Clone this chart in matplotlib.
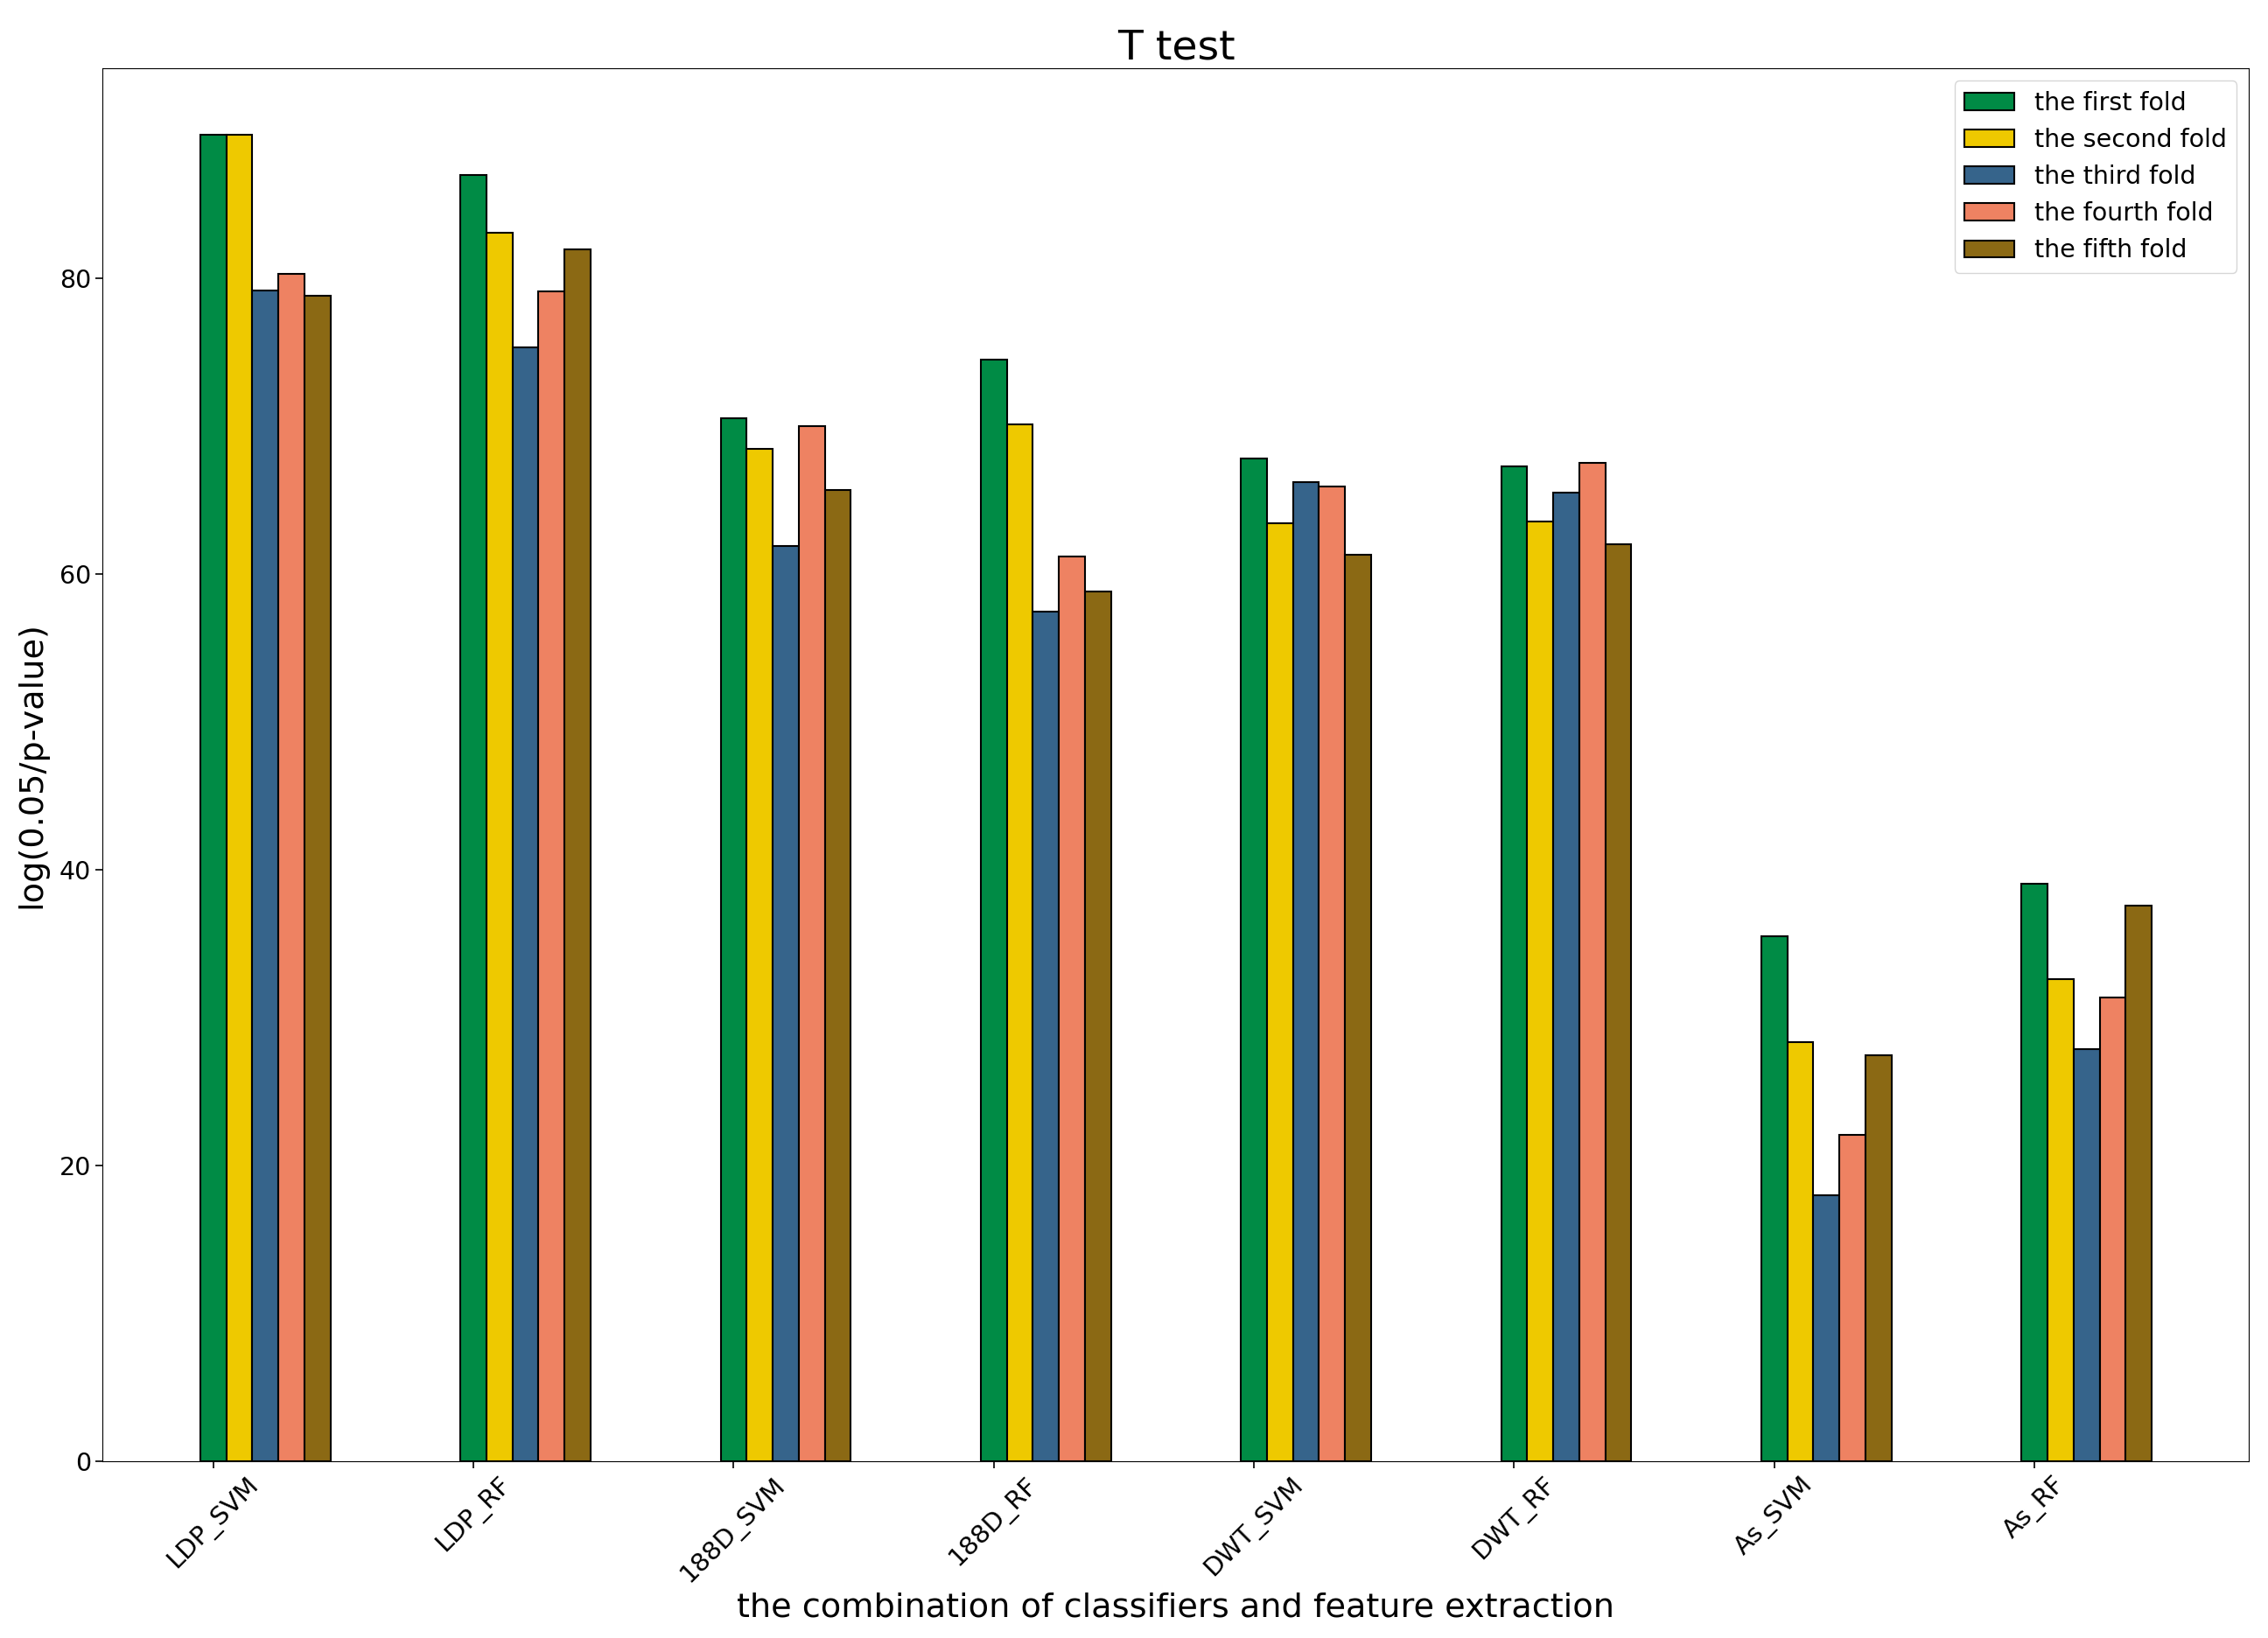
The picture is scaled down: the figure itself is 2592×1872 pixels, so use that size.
import matplotlib
matplotlib.use("Agg")
import matplotlib.pyplot as plt
import numpy as np

categories = ["LDP_SVM", "LDP_RF", "188D_SVM", "188D_RF", "DWT_SVM", "DWT_RF", "As_SVM", "As_RF"]
fold1 = [89.7, 86.98, 70.49, 74.5, 67.81, 67.24, 35.52, 39.04]
fold2 = [89.7, 83.08, 68.44, 70.08, 63.4, 63.55, 28.34, 32.6]
fold3 = [79.17, 75.33, 61.85, 57.44, 66.17, 65.46, 17.99, 27.85]
fold4 = [80.28, 79.07, 70.0, 61.18, 65.92, 67.47, 22.09, 31.36]
fold5 = [78.82, 81.93, 65.68, 58.83, 61.28, 61.99, 27.46, 37.57]
series = [fold1, fold2, fold3, fold4, fold5]
labels = ["the first fold", "the second fold", "the third fold", "the fourth fold", "the fifth fold"]
colors = ["#008B45", "#EEC900", "#36648B", "#EE8262", "#8B6914"]

fig = plt.figure(figsize=(25.92, 18.72), dpi=100)
ax = fig.add_axes([0.0453, 0.1079, 0.9464, 0.8505])

x = np.arange(len(categories))
w = 0.1
for k, (vals, lab, col) in enumerate(zip(series, labels, colors)):
    ax.bar(x + k * w, vals, width=w, color=col, edgecolor="black", linewidth=1.5, label=lab)

ax.set_xticks(x)
ax.set_xticklabels(categories, rotation=45, fontsize=21)
ax.tick_params(axis="y", labelsize=20.5)
ax.tick_params(length=6, width=1.2)
ax.set_title("T test", fontsize=34)
ax.set_xlabel("the combination of classifiers and feature extraction", fontsize=27.5)
ax.set_ylabel("log(0.05/p-value)", fontsize=27.5, labelpad=10)
ax.legend(loc="upper right", fontsize=20.5)

fig.savefig("out.png", dpi=100)
